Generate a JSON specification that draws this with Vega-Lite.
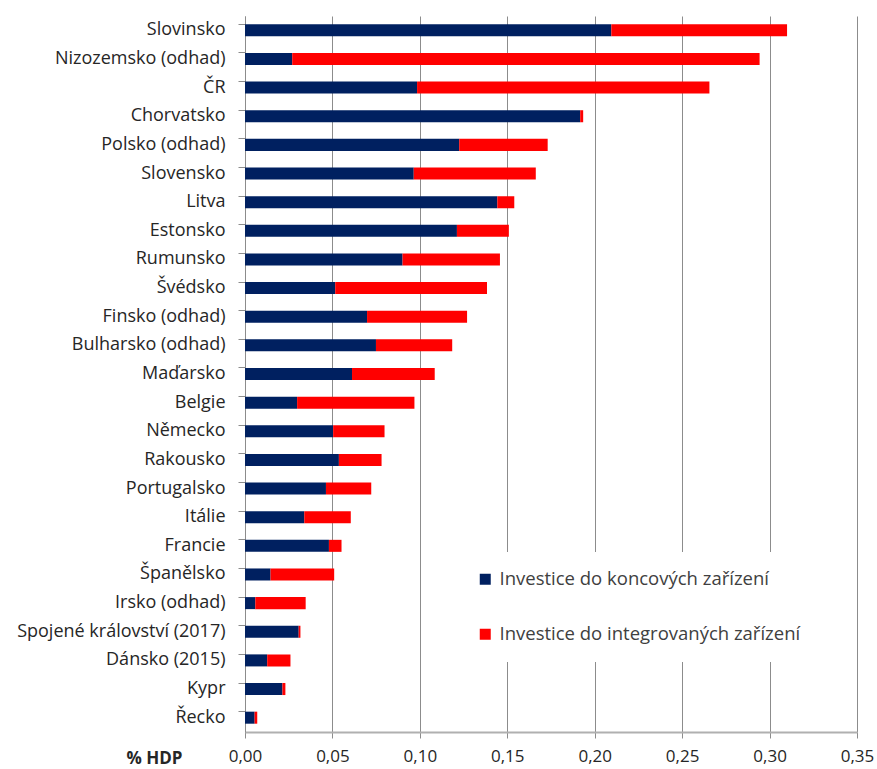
{
  "$schema": "https://vega.github.io/schema/vega-lite/v6.json",
  "autosize": {"type": "none"},
  "width": 612,
  "height": 716,
  "padding": {"left": 245, "top": 16, "right": 20, "bottom": 37},
  "background": "white",
  "config": {
    "view": {"stroke": null},
    "font": "Open Sans"
  },
  "data": {
    "values": [
      {"zeme": "Slovinsko", "serie": "Investice do koncových zařízení", "hodnota": 0.2095},
      {"zeme": "Slovinsko", "serie": "Investice do integrovaných zařízení", "hodnota": 0.1005},
      {"zeme": "Nizozemsko (odhad)", "serie": "Investice do koncových zařízení", "hodnota": 0.027},
      {"zeme": "Nizozemsko (odhad)", "serie": "Investice do integrovaných zařízení", "hodnota": 0.2673},
      {"zeme": "ČR", "serie": "Investice do koncových zařízení", "hodnota": 0.0984},
      {"zeme": "ČR", "serie": "Investice do integrovaných zařízení", "hodnota": 0.1672},
      {"zeme": "Chorvatsko", "serie": "Investice do koncových zařízení", "hodnota": 0.1917},
      {"zeme": "Chorvatsko", "serie": "Investice do integrovaných zařízení", "hodnota": 0.0017},
      {"zeme": "Polsko (odhad)", "serie": "Investice do koncových zařízení", "hodnota": 0.1225},
      {"zeme": "Polsko (odhad)", "serie": "Investice do integrovaných zařízení", "hodnota": 0.0506},
      {"zeme": "Slovensko", "serie": "Investice do koncových zařízení", "hodnota": 0.0965},
      {"zeme": "Slovensko", "serie": "Investice do integrovaných zařízení", "hodnota": 0.0698},
      {"zeme": "Litva", "serie": "Investice do koncových zařízení", "hodnota": 0.1443},
      {"zeme": "Litva", "serie": "Investice do integrovaných zařízení", "hodnota": 0.0097},
      {"zeme": "Estonsko", "serie": "Investice do koncových zařízení", "hodnota": 0.1212},
      {"zeme": "Estonsko", "serie": "Investice do integrovaných zařízení", "hodnota": 0.0297},
      {"zeme": "Rumunsko", "serie": "Investice do koncových zařízení", "hodnota": 0.0901},
      {"zeme": "Rumunsko", "serie": "Investice do integrovaných zařízení", "hodnota": 0.0557},
      {"zeme": "Švédsko", "serie": "Investice do koncových zařízení", "hodnota": 0.0516},
      {"zeme": "Švédsko", "serie": "Investice do integrovaných zařízení", "hodnota": 0.0868},
      {"zeme": "Finsko (odhad)", "serie": "Investice do koncových zařízení", "hodnota": 0.0698},
      {"zeme": "Finsko (odhad)", "serie": "Investice do integrovaných zařízení", "hodnota": 0.0572},
      {"zeme": "Bulharsko (odhad)", "serie": "Investice do koncových zařízení", "hodnota": 0.0749},
      {"zeme": "Bulharsko (odhad)", "serie": "Investice do integrovaných zařízení", "hodnota": 0.0436},
      {"zeme": "Maďarsko", "serie": "Investice do koncových zařízení", "hodnota": 0.0612},
      {"zeme": "Maďarsko", "serie": "Investice do integrovaných zařízení", "hodnota": 0.0473},
      {"zeme": "Belgie", "serie": "Investice do koncových zařízení", "hodnota": 0.0298},
      {"zeme": "Belgie", "serie": "Investice do integrovaných zařízení", "hodnota": 0.0671},
      {"zeme": "Německo", "serie": "Investice do koncových zařízení", "hodnota": 0.0504},
      {"zeme": "Německo", "serie": "Investice do integrovaných zařízení", "hodnota": 0.0294},
      {"zeme": "Rakousko", "serie": "Investice do koncových zařízení", "hodnota": 0.0537},
      {"zeme": "Rakousko", "serie": "Investice do integrovaných zařízení", "hodnota": 0.0244},
      {"zeme": "Portugalsko", "serie": "Investice do koncových zařízení", "hodnota": 0.0463},
      {"zeme": "Portugalsko", "serie": "Investice do integrovaných zařízení", "hodnota": 0.0259},
      {"zeme": "Itálie", "serie": "Investice do koncových zařízení", "hodnota": 0.0339},
      {"zeme": "Itálie", "serie": "Investice do integrovaných zařízení", "hodnota": 0.0266},
      {"zeme": "Francie", "serie": "Investice do koncových zařízení", "hodnota": 0.048},
      {"zeme": "Francie", "serie": "Investice do integrovaných zařízení", "hodnota": 0.0072},
      {"zeme": "Španělsko", "serie": "Investice do koncových zařízení", "hodnota": 0.0146},
      {"zeme": "Španělsko", "serie": "Investice do integrovaných zařízení", "hodnota": 0.0364},
      {"zeme": "Irsko (odhad)", "serie": "Investice do koncových zařízení", "hodnota": 0.0059},
      {"zeme": "Irsko (odhad)", "serie": "Investice do integrovaných zařízení", "hodnota": 0.0288},
      {"zeme": "Spojené království (2017)", "serie": "Investice do koncových zařízení", "hodnota": 0.0307},
      {"zeme": "Spojené království (2017)", "serie": "Investice do integrovaných zařízení", "hodnota": 0.001},
      {"zeme": "Dánsko (2015)", "serie": "Investice do koncových zařízení", "hodnota": 0.0127},
      {"zeme": "Dánsko (2015)", "serie": "Investice do integrovaných zařízení", "hodnota": 0.0133},
      {"zeme": "Kypr", "serie": "Investice do koncových zařízení", "hodnota": 0.0214},
      {"zeme": "Kypr", "serie": "Investice do integrovaných zařízení", "hodnota": 0.0017},
      {"zeme": "Řecko", "serie": "Investice do koncových zařízení", "hodnota": 0.0055},
      {"zeme": "Řecko", "serie": "Investice do integrovaných zařízení", "hodnota": 0.0015}
    ]
  },
  "mark": {"type": "bar"},
  "encoding": {
    "y": {
      "field": "zeme",
      "type": "nominal",
      "sort": null,
      "scale": {"paddingInner": 0.58, "paddingOuter": 0.29},
      "axis": {
        "title": null,
        "bandPosition": 0,
        "domainColor": "#8c8c8c",
        "tickColor": "#8c8c8c",
        "tickSize": 7,
        "labelPadding": 13,
        "labelFontSize": 18,
        "labelColor": "#262626",
        "labelFont": "Open Sans",
        "labelLimit": 300
      }
    },
    "x": {
      "field": "hodnota",
      "type": "quantitative",
      "stack": "zero",
      "scale": {"domain": [0, 0.35], "nice": false},
      "axis": {
        "title": "% HDP",
        "titleFont": "Open Sans",
        "titleFontSize": 17,
        "titleFontWeight": "bold",
        "titleColor": "#262626",
        "titleAnchor": "start",
        "titleAlign": "right",
        "titleBaseline": "middle",
        "titleX": -63,
        "titleY": 26,
        "values": [0, 0.05, 0.1, 0.15, 0.2, 0.25, 0.3, 0.35],
        "labelExpr": "replace(format(datum.value, '.2f'), '.', ',')",
        "labelFontSize": 17,
        "labelFont": "Open Sans",
        "labelColor": "#262626",
        "labelPadding": 10,
        "labelFlush": false,
        "tickSize": 6,
        "tickColor": "#8c8c8c",
        "domainColor": "#b0b0b0",
        "domainWidth": 2,
        "grid": true,
        "gridColor": "#8c8c8c",
        "gridWidth": 1
      }
    },
    "color": {
      "field": "serie",
      "type": "nominal",
      "scale": {
        "domain": ["Investice do koncových zařízení", "Investice do integrovaných zařízení"],
        "range": ["#002060", "#ff0000"]
      },
      "legend": {
        "title": null,
        "orient": "none",
        "legendX": 213,
        "legendY": 536,
        "fillColor": "white",
        "padding": 18,
        "symbolType": "square",
        "symbolSize": 121,
        "symbolStrokeWidth": 0,
        "labelFontSize": 18.5,
        "labelFont": "Open Sans",
        "labelColor": "#404040",
        "labelLimit": 400,
        "labelOffset": 5,
        "rowPadding": 36
      }
    },
    "order": {"field": "serie", "sort": "descending"}
  }
}
